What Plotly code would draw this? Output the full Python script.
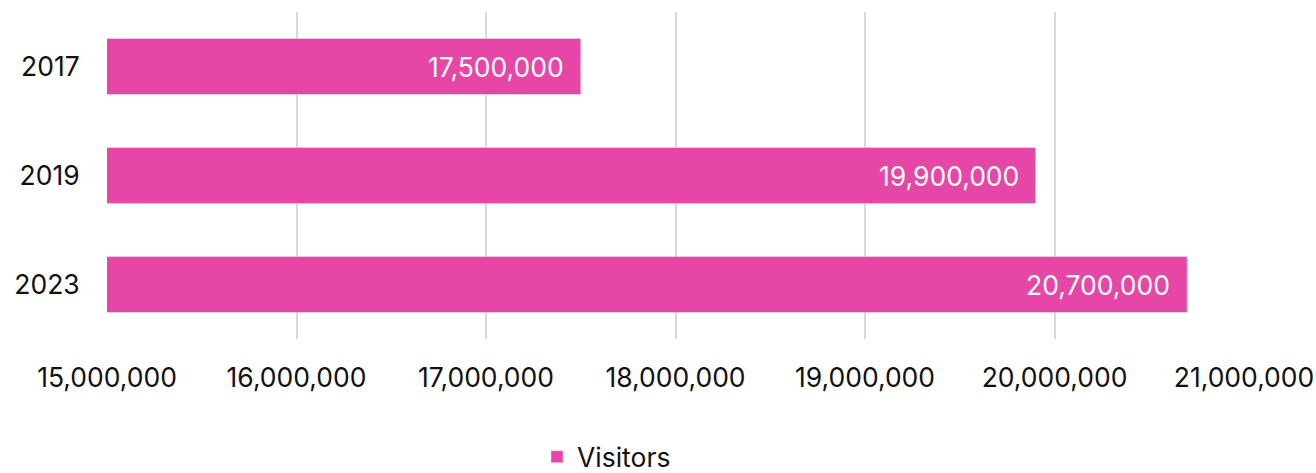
import plotly.graph_objects as go

years = ["2017", "2019", "2023"]
visitors = [17500000, 19900000, 20700000]
tick_vals = [15000000, 16000000, 17000000, 18000000, 19000000, 20000000, 21000000]
tick_text = ["15,000,000", "16,000,000", "17,000,000", "18,000,000", "19,000,000", "20,000,000", "21,000,000"]
series_name = "Visitors"

BAR = "#E646A5"
FONT = "Inter, Roboto, sans-serif"
FS = 26.5

fig = go.Figure()
fig.add_trace(go.Bar(
    y=years, x=visitors, orientation="h", name=series_name,
    marker=dict(color=BAR),
    hoverinfo="skip",
))

for i, v in enumerate(visitors):
    fig.add_annotation(x=v, y=i, xref="x", yref="y", text=f"{v:,}",
                       showarrow=False, xanchor="right", xshift=-15,
                       font=dict(color="white", size=FS, family=FONT))

fig.update_layout(
    width=1316, height=473,
    margin=dict(l=107, r=72, t=12, b=134, autoexpand=False),
    paper_bgcolor="white", plot_bgcolor="white",
    bargap=0.486,
    font=dict(family=FONT, size=FS, color="#111111"),
    showlegend=True,
    legend=dict(orientation="h", xref="container", yref="container",
                x=537 / 1316, xanchor="left", y=1 - 457 / 473, yanchor="middle",
                font=dict(size=FS, color="#111111")),
    xaxis=dict(range=[15000000, 21000000], tickvals=tick_vals, ticktext=tick_text,
               showgrid=True, gridcolor="#D9D9D9", gridwidth=2, zeroline=False,
               showline=False, ticks="outside", ticklen=15, tickcolor="rgba(0,0,0,0)"),
    yaxis=dict(type="category", autotypenumbers="strict",
               categoryorder="array", categoryarray=years,
               range=[len(years) - 0.5, -0.5],
               showgrid=False, zeroline=False, showline=False,
               ticks="outside", ticklen=21, tickcolor="rgba(0,0,0,0)"),
)

fig.write_html("out.html")
